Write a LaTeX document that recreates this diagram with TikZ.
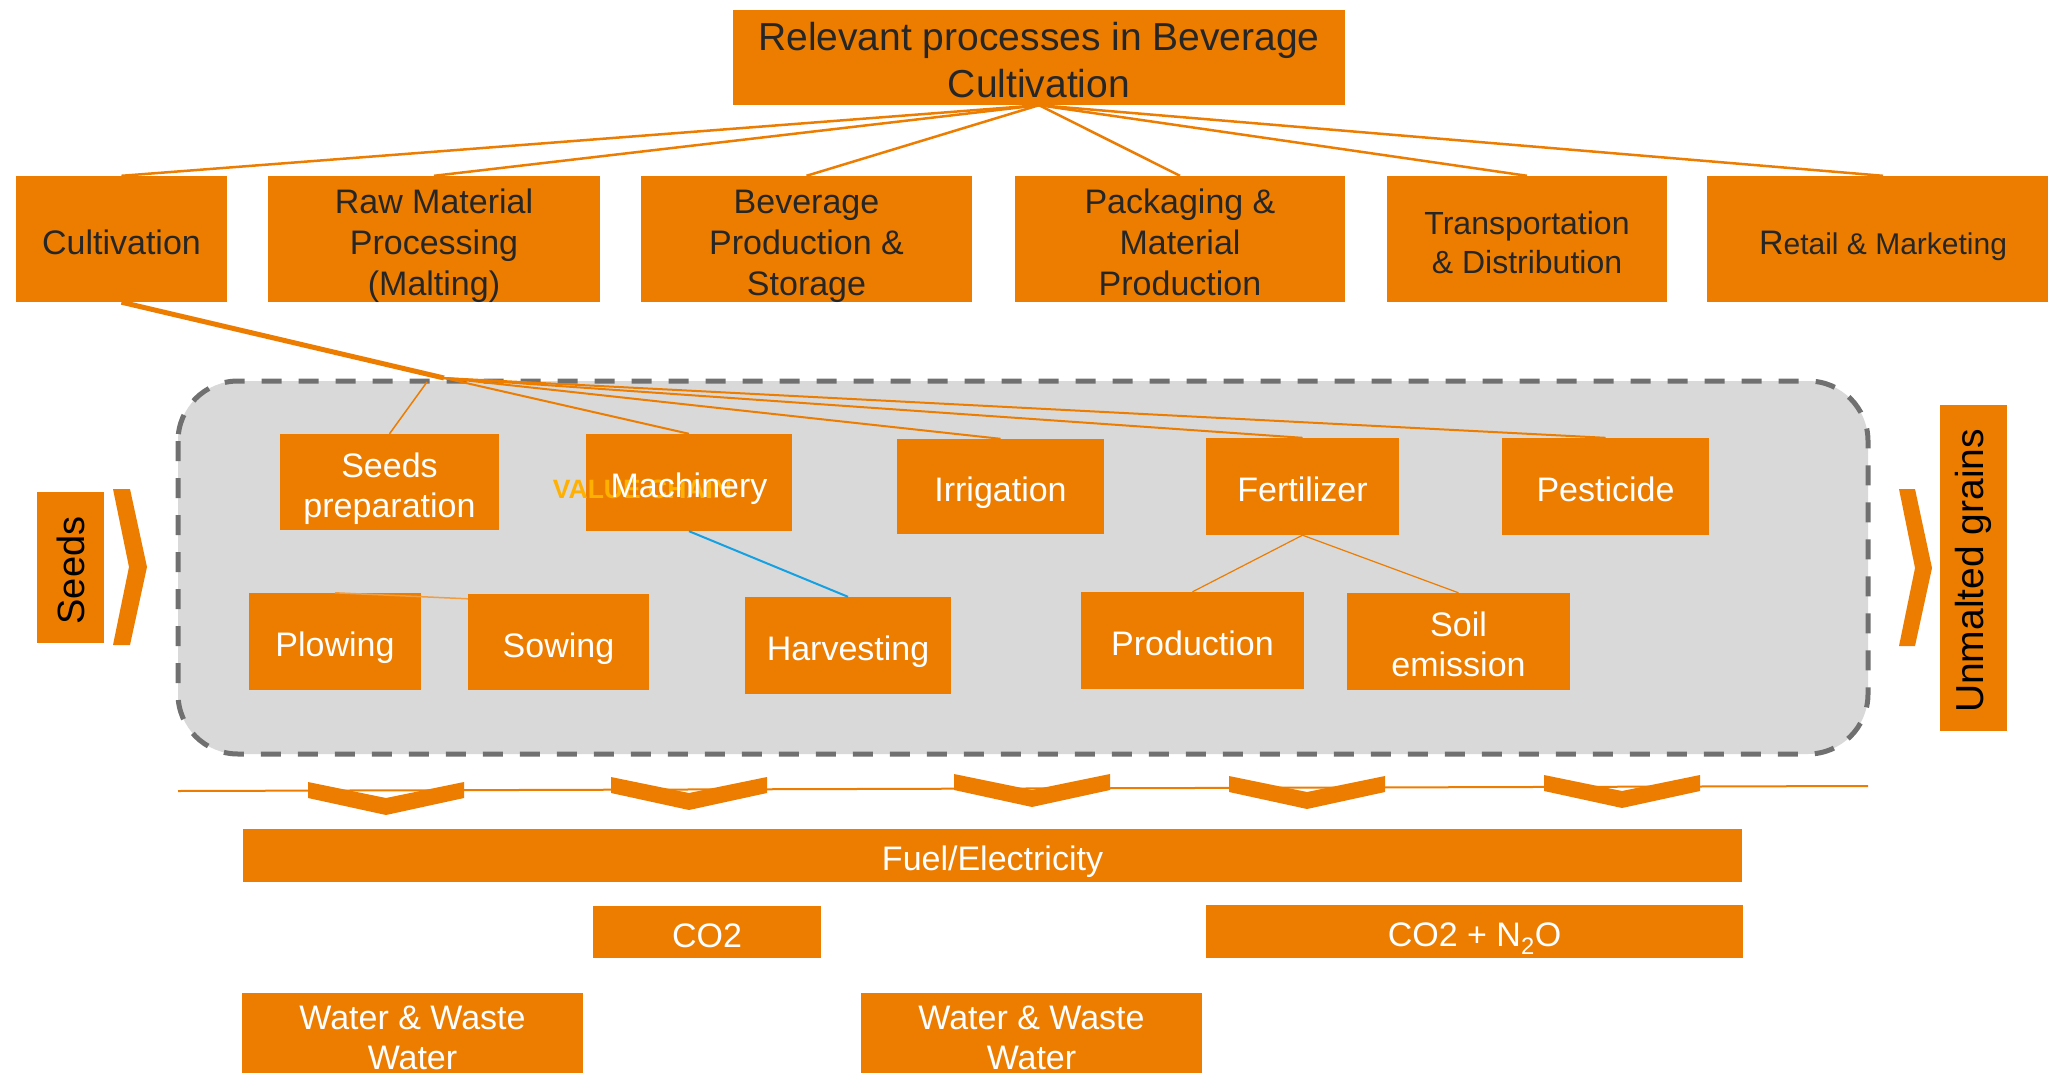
\documentclass[tikz,border=0pt]{standalone}
\usepackage{fontspec}
\setmainfont{Liberation Sans}
\usetikzlibrary{calc}

\definecolor{brand}{RGB}{236,125,0}
\definecolor{panel}{RGB}{217,217,217}
\definecolor{dashgrey}{RGB}{112,112,112}
\definecolor{darktext}{RGB}{38,38,38}
\definecolor{vcyellow}{RGB}{255,176,0}
\definecolor{linkblue}{RGB}{20,160,225}

\newcommand{\bxfont}{\fontsize{34}{41}\selectfont}
\newcommand{\infont}{\fontsize{34}{40}\selectfont}
% box text as a centred block, nudged down inside its box
\newcommand{\tx}[2][7pt]{\raisebox{-#1}[\height][\depth]{\begin{tabular}{@{}c@{}}#2\end{tabular}}}

\tikzset{
  box/.style={fill=brand, inner sep=0pt, align=center},
  stagebox/.style={box, text=darktext, font=\bxfont},
  taskbox/.style={box, text=white, font=\infont},
  flowbox/.style={box, text=white, font=\infont},
  endbox/.style={box, text=black, rotate=90},
  link/.style={draw=brand, line width=2.5pt},
  sublink/.style={draw=brand, line width=2pt},
  thinlink/.style={draw=brand, line width=1.2pt},
}

\begin{document}
\begin{tikzpicture}[x=1pt, y=-1pt]
\useasboundingbox (0,0) rectangle (2048,1073);
\clip (0,0) rectangle (2048,1073);

% value-chain panel
\draw[fill=panel, draw=dashgrey, line width=5pt, dash pattern=on 20pt off 17pt,
      rounded corners=60pt] (178,381) rectangle (1868,754);

% title and main stages
\node[stagebox, minimum width=612, minimum height=95,
      font=\fontsize{39}{47}\selectfont] (title) at (1039,57.5)
      {\tx{Relevant processes in Beverage\\Cultivation}};

\node[stagebox, minimum width=211, minimum height=126] (cult) at (121.5,239) {\tx{Cultivation}};
\node[stagebox, minimum width=332, minimum height=126] (raw)  at (434,239) {\tx{Raw Material\\Processing\\(Malting)}};
\node[stagebox, minimum width=331, minimum height=126] (bev)  at (806.5,239) {\tx{Beverage\\Production \&\\Storage}};
\node[stagebox, minimum width=330, minimum height=126] (pack) at (1180,239) {\tx{Packaging \&\\Material\\Production}};
\node[stagebox, minimum width=280, minimum height=126, font=\fontsize{32}{39}\selectfont]
      (trans) at (1527,239) {\tx{Transportation\\\& Distribution}};
\node[stagebox, minimum width=352, minimum height=126, font=\fontsize{30}{36}\selectfont]
      (retail) at (1883,239) {\tx[8pt]{{\fontsize{34}{36}\selectfont R}etail \& Marketing}};

\foreach \n in {cult,raw,bev,pack,trans,retail}
  \draw[link] (title.south) -- (\n.north);

% cultivation tasks
\node[taskbox, minimum width=219, minimum height=96] (seedprep) at (389.5,482) {\tx{Seeds\\preparation}};
\node[taskbox, minimum width=206, minimum height=97] (mach) at (689,482.5) {};
\node[font=\bfseries\fontsize{26.5}{30}\selectfont, text=vcyellow, inner sep=0pt]
      (vchain) at (642.5,489) {VALUE CHAIN};
\node[text=white, font=\infont, inner sep=0pt] (machlabel) at (mach.center) {\tx{Machinery}};
\node[taskbox, minimum width=207, minimum height=95] (irr)  at (1000.5,486.5) {\tx{Irrigation}};
\node[taskbox, minimum width=193, minimum height=97] (fert) at (1302.5,486.5) {\tx{Fertilizer}};
\node[taskbox, minimum width=207, minimum height=97] (pest) at (1605.5,486.5) {\tx{Pesticide}};

\node[taskbox, minimum width=172, minimum height=97] (plow) at (335,641.5) {\tx{Plowing}};
\node[taskbox, minimum width=181, minimum height=96] (sow)  at (558.5,642) {\tx{Sowing}};
\node[taskbox, minimum width=206, minimum height=97] (harv) at (848,645.5) {\tx{Harvesting}};
\node[taskbox, minimum width=223, minimum height=97] (prod) at (1192.5,640.5) {\tx{Production}};
\node[taskbox, minimum width=223, minimum height=97] (soil) at (1458.5,641.5) {\tx{Soil\\emission}};

% tree from the cultivation stage into the panel
\coordinate (hub) at (444,378);
\coordinate (seedjoin) at (427,382);
\draw[draw=brand, line width=5pt] (cult.south) -- (hub);
\draw[draw=brand, line width=1.5pt] (seedjoin) -- (seedprep.north);
\foreach \n in {mach,irr,fert,pest}
  \draw[sublink] (hub) -- (\n.north);
\draw[draw=brand!75, line width=1.5pt] (plow.north) -- ($(sow.north west)+(0,5)$);
\draw[draw=linkblue, line width=2pt] (mach.south) -- (harv.north);
\draw[thinlink] (fert.south) -- (prod.north);
\draw[thinlink] (fert.south) -- (soil.north);

% input and output
\node[endbox, minimum width=151, minimum height=67, font=\fontsize{38}{44}\selectfont]
      (seeds) at (70.5,567.5) {Seeds\kern6pt};
\fill[brand] (113,489) -- (130,489) -- (147,567) -- (130,645) -- (113,645) -- (129,567) -- cycle;
\node[endbox, minimum width=326, minimum height=67, font=\fontsize{39}{45}\selectfont]
      (grains) at (1973.5,568) {Unmalted grains\kern6pt};
\fill[brand] (1899,489) -- (1915,489) -- (1932,568) -- (1915,646) -- (1899,646) -- (1915,568) -- cycle;

% flow line with down chevrons
\coordinate (flowstart) at (178,791);
\coordinate (flowend) at (1868,786);
\draw[sublink] (flowstart) -- (flowend);
\foreach \cx/\ty in {386/782, 689/777, 1032/774, 1307/776, 1622/775}
  \fill[brand] (\cx-78,\ty) -- (\cx-78,\ty+16) -- (\cx,\ty+33) -- (\cx+78,\ty+16)
               -- (\cx+78,\ty) -- (\cx,\ty+16) -- cycle;

% resources and emissions
\node[flowbox, minimum width=1499, minimum height=53] (fuel) at (992.5,855.5) {\tx{Fuel/Electricity}};
\node[flowbox, minimum width=228, minimum height=52] (co2) at (707,932) {\tx{CO2}};
\node[flowbox, minimum width=537, minimum height=53] (co2n2o) at (1474.5,931.5) {\tx{CO2 + N\textsubscript{2}O}};
\node[flowbox, minimum width=341, minimum height=86] (water1) at (412.5,1036) {\tx[5.5pt]{Water \& Waste\\Water}};
\node[flowbox, minimum width=341, minimum height=86] (water2) at (1031.5,1036) {\tx[5.5pt]{Water \& Waste\\Water}};

\end{tikzpicture}
\end{document}
